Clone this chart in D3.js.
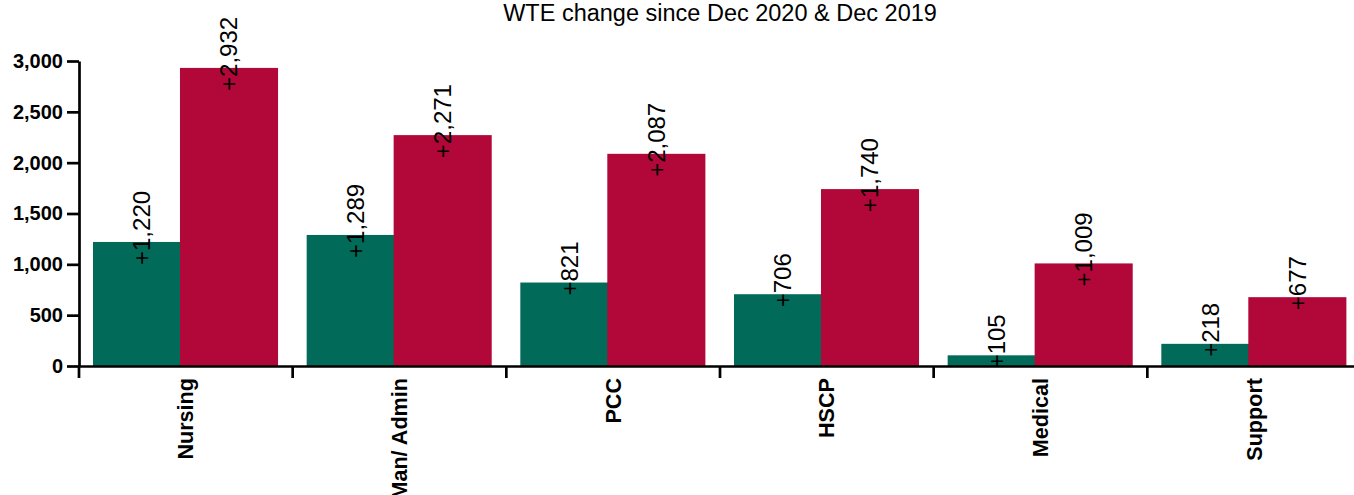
<!DOCTYPE html>
<html>
<head>
<meta charset="utf-8">
<script src="https://cdn.jsdelivr.net/npm/d3@7"></script>
<style>
  body { margin: 0; background: #fff; }
  svg { display: block; font-family: "Liberation Sans", Arial, sans-serif; }
</style>
</head>
<body>
<div id="chart"></div>
<script>
// data
var categories = ["Nursing", "Man/ Admin", "PCC", "HSCP", "Medical", "Support"];
var sinceDec2020 = [1220, 1289, 821, 706, 105, 218];
var sinceDec2019 = [2932, 2271, 2087, 1740, 1009, 677];
var yTicks = [0, 500, 1000, 1500, 2000, 2500, 3000];
var title = "WTE change since Dec 2020 & Dec 2019";

var W = 1354, H = 495;
var margin = {top: 61, left: 79, bottom: 129};
var height = H - margin.top - margin.bottom;   // 305
var width = 1282;                               // last band runs past the window edge

var svg = d3.select("#chart").append("svg")
    .attr("width", W)
    .attr("height", H);

var g = svg.append("g")
    .attr("transform", "translate(" + margin.left + "," + margin.top + ")");

var x0 = d3.scaleBand().domain(categories).range([0, width]).padding(0);
var y = d3.scaleLinear().domain([0, 3000]).range([height, 0]);

var bw = x0.bandwidth();
var barW = bw * 0.459;
// the two bars overlap a little, the red one drawn on top
var offsets = {green: bw * 0.0655, red: bw * 0.4726};

var series = [
  {key: "green", color: "#016a58", values: sinceDec2020},
  {key: "red", color: "#b10839", values: sinceDec2019}
];

series.forEach(function(s) {
  g.selectAll(".bar-" + s.key)
    .data(categories)
    .enter().append("rect")
      .attr("class", "bar-" + s.key)
      .attr("x", function(c) { return x0(c) + offsets[s.key]; })
      .attr("width", barW)
      .attr("y", function(c, i) { return y(s.values[i]); })
      .attr("height", function(c, i) { return height - y(s.values[i]); })
      .style("fill", s.color);
});

// value labels
var fmt = d3.format(",");
series.forEach(function(s) {
  g.selectAll(".lab-" + s.key)
    .data(categories)
    .enter().append("text")
      .attr("class", "lab-" + s.key)
      .attr("transform", function(c, i) {
        var cx = x0(c) + offsets[s.key] + barW / 2;
        return "translate(" + cx + "," + (y(s.values[i]) - 14) + ") rotate(-90)";
      })
      .attr("text-anchor", "middle")
      .attr("dy", "0.35em")
      .style("font-size", "24px")
      .style("fill", "#000")
      .text(function(c, i) { return "+" + fmt(s.values[i]); });
});

// y axis
var yAxis = g.append("g")
    .call(d3.axisLeft(y).tickValues(yTicks).tickFormat(fmt).tickSize(12).tickSizeOuter(0));
yAxis.select(".domain").attr("stroke", "#000").attr("stroke-width", 2.7);
yAxis.selectAll(".tick line").attr("stroke", "#000").attr("stroke-width", 2.7);
yAxis.selectAll(".tick text")
    .attr("x", -16)
    .style("font-size", "20px")
    .style("font-weight", "bold")
    .style("fill", "#000");

// x axis
var xAxis = g.append("g")
    .attr("transform", "translate(0," + height + ")")
    .call(d3.axisBottom(x0).tickSize(0).tickSizeOuter(0));
xAxis.select(".domain").attr("stroke", "#000").attr("stroke-width", 2.7);
xAxis.selectAll(".tick text")
    .attr("transform", "rotate(-90)")
    .attr("text-anchor", "end")
    .attr("x", -12)
    .attr("y", 0)
    .attr("dy", "0.35em")
    .style("font-size", "21.6px")
    .style("font-weight", "bold")
    .style("fill", "#000");

// ticks at the band edges
xAxis.selectAll(".edge")
    .data(categories)
    .enter().append("line")
      .attr("class", "edge")
      .attr("x1", function(c) { return x0(c); })
      .attr("x2", function(c) { return x0(c); })
      .attr("y1", 0)
      .attr("y2", 12)
      .attr("stroke", "#000")
      .attr("stroke-width", 2.7);

// title
svg.append("text")
    .attr("x", margin.left + width / 2)
    .attr("y", 21)
    .attr("text-anchor", "middle")
    .style("font-size", "23.5px")
    .style("fill", "#000")
    .text(title);
</script>
</body>
</html>
